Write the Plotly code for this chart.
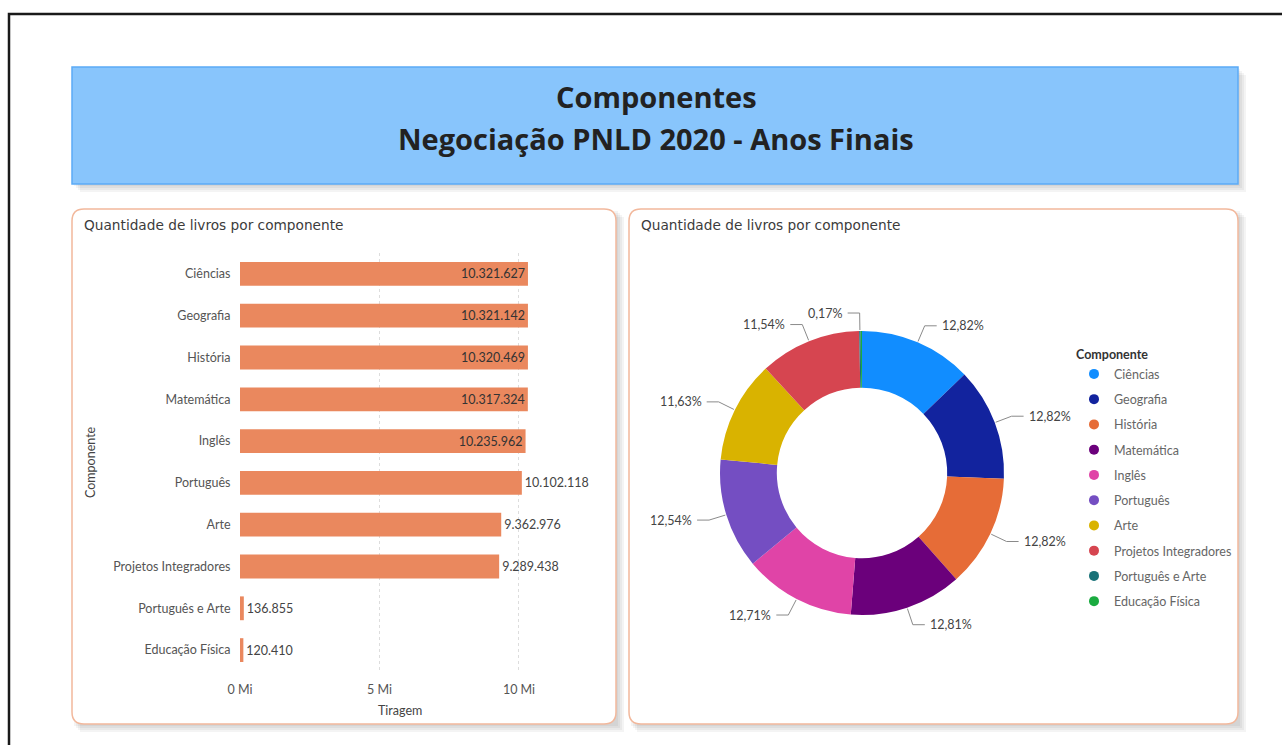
import math
import plotly.graph_objects as go

W, H = 1282, 745

# ---------------- data ----------------
categories = ["Ciências", "Geografia", "História", "Matemática", "Inglês", "Português",
              "Arte", "Projetos Integradores", "Português e Arte", "Educação Física"]
tiragem = [10321627, 10321142, 10320469, 10317324, 10235962, 10102118,
           9362976, 9289438, 136855, 120410]
bar_label_pos = ["inside", "inside", "inside", "inside", "inside",
                 "outside", "outside", "outside", "outside", "outside"]
slice_colors = ["#118DFF", "#12239E", "#E66C37", "#6B007B", "#E044A7",
                "#744EC2", "#D9B300", "#D64550", "#197278", "#1AAB40"]
hidden_pie_labels = ["Educação Física"]
x_tick_vals = [0, 5_000_000, 10_000_000]
x_tick_text = ["0 Mi", "5 Mi", "10 Mi"]

title_lines = ["Componentes", "Negociação PNLD 2020 - Anos Finais"]
panel_title = "Quantidade de livros por componente"

FONT = "Segoe UI, Lato, Noto Sans, sans-serif"
TFONT = "DejaVu Sans, sans-serif"
BAR_COLOR = "#EA885E"
PANEL_BORDER = "#F2B89C"


def fx(x):
    return x / W


def fy(y):
    return 1 - y / H


fig = go.Figure()

# ---------------- bar chart ----------------
fig.add_trace(go.Bar(
    x=tiragem, y=categories, orientation="h",
    marker=dict(color=BAR_COLOR, line=dict(width=0)),
    texttemplate="%{x:,.0f}", textposition=bar_label_pos,
    insidetextanchor="end",
    insidetextfont=dict(family=FONT, size=12.5, color="#333333"),
    outsidetextfont=dict(family=FONT, size=12.5, color="#444444"),
    cliponaxis=False, showlegend=False, hoverinfo="skip",
    xaxis="x", yaxis="y",
))

# ---------------- donut ----------------
PIE_CX, PIE_CY, PIE_R = 862, 473, 142
fig.add_trace(go.Pie(
    labels=categories, values=tiragem, hole=0.6, sort=False,
    direction="clockwise", rotation=0,
    marker=dict(colors=slice_colors, line=dict(width=0)),
    textinfo="none", showlegend=False, hoverinfo="label+percent",
    domain=dict(x=[fx(PIE_CX - PIE_R), fx(PIE_CX + PIE_R)],
                y=[fy(PIE_CY + PIE_R), fy(PIE_CY - PIE_R)]),
))

# legend entries (circle markers)
for cat, col in zip(categories, slice_colors):
    fig.add_trace(go.Scatter(
        x=[None], y=[None], mode="markers", name=cat, legendgroup=cat,
        marker=dict(symbol="circle", size=10, color=col),
        xaxis="x", yaxis="y", hoverinfo="skip",
    ))

shapes = []
annotations = []

# outer frame
shapes.append(dict(type="rect", xref="paper", yref="paper",
                   x0=fx(9), x1=fx(1300), y0=fy(760), y1=fy(14),
                   line=dict(color="#1a1a1a", width=2.5), fillcolor="rgba(0,0,0,0)"))


def shadow_rect(x0, y0, x1, y1):
    for i in range(4):
        d = 2 + i * 2
        shapes.append(dict(type="rect", xref="paper", yref="paper",
                           x0=fx(x0 + d), x1=fx(x1 + d), y0=fy(y1 + d), y1=fy(y0 + d),
                           line=dict(width=0), fillcolor="rgba(0,0,0,0.045)", layer="below"))


def rounded(x0, y0, x1, y1, r):
    X0, X1 = fx(x0), fx(x1)
    Y0, Y1 = fy(y0), fy(y1)
    rx, ry = r / W, r / H
    return (f"M {X0+rx},{Y0} L {X1-rx},{Y0} Q {X1},{Y0} {X1},{Y0-ry} "
            f"L {X1},{Y1+ry} Q {X1},{Y1} {X1-rx},{Y1} L {X0+rx},{Y1} "
            f"Q {X0},{Y1} {X0},{Y1+ry} L {X0},{Y0-ry} Q {X0},{Y0} {X0+rx},{Y0} Z")


def note(text, x, y, size, color, family=FONT, xanchor="center", yanchor="middle", **kw):
    annotations.append(dict(text=text, x=fx(x), y=fy(y), xref="paper", yref="paper",
                            xanchor=xanchor, yanchor=yanchor, showarrow=False,
                            font=dict(family=family, size=size, color=color), **kw))


# title box
shadow_rect(72, 67, 1238, 184)
shapes.append(dict(type="rect", xref="paper", yref="paper",
                   x0=fx(72), x1=fx(1238), y0=fy(184), y1=fy(67),
                   line=dict(color="#5BAAF6", width=1.5), fillcolor="#88C5FC", layer="below"))

# panels
for (x0, x1) in [(72, 616), (629, 1238)]:
    shadow_rect(x0, 209, x1, 724)
    shapes.append(dict(type="path", xref="paper", yref="paper",
                       path=rounded(x0, 209, x1, 724, 12),
                       line=dict(color=PANEL_BORDER, width=1.5), fillcolor="white", layer="below"))
    note(panel_title, x0 + 10, 225, 13.7, "#3c3c3c", family=TFONT, xanchor="left")

note(f"<b>{title_lines[0]}</b>", 656, 97, 29, "#222222", family="Open Sans, sans-serif")
note(f"<b>{title_lines[1]}</b>", 656, 138, 29, "#222222", family="Open Sans, sans-serif")

# axis titles
note("Tiragem", 400, 710, 12.5, "#444444")
note("Componente", 91, 462, 12.5, "#444444", textangle=-90)

# donut labels with leader lines (derived from data)
total = sum(tiragem)
cum = 0.0
for cat, v in zip(categories, tiragem):
    frac = v / total
    mid = (cum + frac / 2) * 2 * math.pi
    cum += frac
    if cat in hidden_pie_labels:
        continue
    s, c = math.sin(mid), math.cos(mid)
    p1 = (PIE_CX + (PIE_R + 1) * s, PIE_CY - (PIE_R + 1) * c)
    p2 = (PIE_CX + (PIE_R + 18) * s, PIE_CY - (PIE_R + 18) * c)
    side = 1 if s > 0.02 else -1
    p3 = (p2[0] + side * 12, p2[1])
    shapes.append(dict(type="path", xref="paper", yref="paper",
                       path=f"M {fx(p1[0])},{fy(p1[1])} L {fx(p2[0])},{fy(p2[1])} L {fx(p3[0])},{fy(p3[1])}",
                       line=dict(color="#8a8a8a", width=1)))
    txt = f"{frac*100:.2f}".replace(".", ",") + "%"
    note(txt, p3[0] + side * 3, p3[1], 12.5, "#444444",
         xanchor="left" if side > 0 else "right")

fig.update_layout(
    template="none",
    width=W, height=H, margin=dict(l=0, r=0, t=0, b=0, pad=0, autoexpand=False),
    paper_bgcolor="white", plot_bgcolor="rgba(0,0,0,0)",
    separators=",.",
    font=dict(family=FONT, size=12, color="#555555"),
    bargap=0.43,
    xaxis=dict(domain=[fx(240), fx(560)], range=[0, 11_470_000], automargin=False,
               tickvals=x_tick_vals, ticktext=x_tick_text,
               showgrid=True, gridcolor="#DDDDDD", griddash="dot", gridwidth=1,
               zeroline=False, showline=False, ticks="outside", ticklen=7,
               tickcolor="rgba(0,0,0,0)", tickfont=dict(family=FONT, size=12.5, color="#555555"),
               fixedrange=True),
    yaxis=dict(domain=[fy(671), fy(253)], autorange="reversed", automargin=False,
               showgrid=False, zeroline=False, showline=False,
               ticks="outside", ticklen=6, tickcolor="rgba(0,0,0,0)",
               tickfont=dict(family=FONT, size=12.5, color="#555555"), fixedrange=True),
    legend=dict(x=fx(1074), y=fy(343), xanchor="left", yanchor="top",
                title=dict(text="<b>Componente</b>", font=dict(family=FONT, size=12.5, color="#333333")),
                font=dict(family=FONT, size=12.5, color="#666666"),
                bgcolor="rgba(0,0,0,0)", tracegroupgap=6, itemwidth=30),
    shapes=shapes, annotations=annotations,
)

fig.write_html("out.html", config={"displayModeBar": False},
               post_script="document.body.style.margin='0';")
